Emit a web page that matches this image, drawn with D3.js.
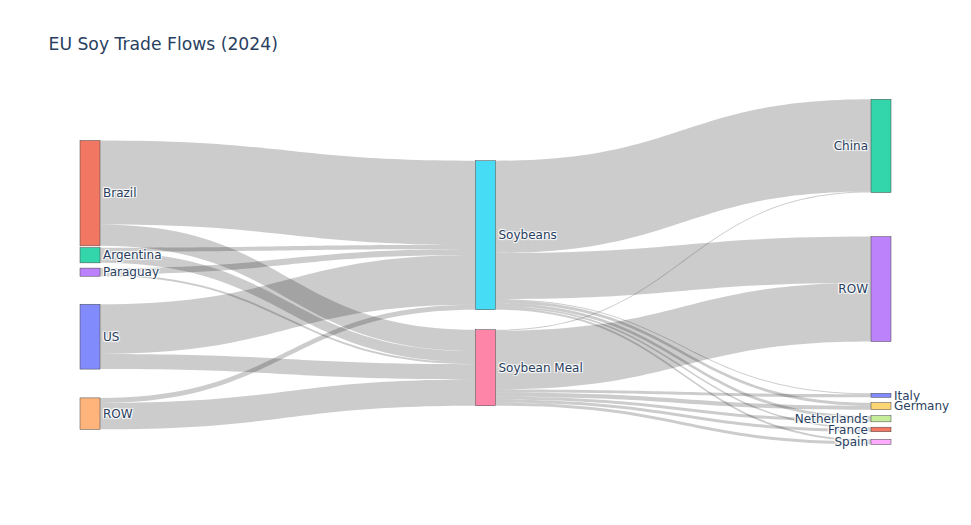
<!DOCTYPE html>
<html>
<head>
<meta charset="utf-8">
<script src="https://cdn.jsdelivr.net/npm/d3@7"></script>
<style>
  html, body { margin: 0; padding: 0; background: #fff; }
  svg { display: block; }
  .node-label {
    font-family: "DejaVu Sans", Verdana, sans-serif;
    font-size: 12px;
    fill: #2a3f5f;
    text-shadow: 1px 1px 1px #fff, -1px -1px 1px #fff, 1px -1px 1px #fff, -1px 1px 1px #fff;
  }
</style>
</head>
<body>
<svg id="chart" width="971" height="525"></svg>
<script>
// ---------------- DATA ----------------
const chartTitle = "EU Soy Trade Flows (2024)";
const nodeLabels = ["Brazil", "Argentina", "Paraguay", "US", "ROW",
                    "Soybeans", "Soybean Meal",
                    "China", "ROW", "Italy", "Germany", "Netherlands", "France", "Spain"];
const nodeColors = ["#EF553B", "#00cc96", "#ab63fa", "#636efa", "#FFA15A",
                    "#19d3f3", "#FF6692",
                    "#00cc96", "#ab63fa", "#636efa", "#FECB52", "#B6E880", "#EF553B", "#FF97FF"];
// node arrangement (like plotly node.y: fraction of the plot height, node centre)
const nodeY = [0.27, 0.45, 0.499, 0.686, 0.909,
               0.392, 0.776,
               0.133, 0.548, 0.856, 0.8875, 0.924, 0.955, 0.991];
// links (million tonnes)
const linkSource = [0, 0, 1, 1, 2, 2, 3, 3, 4, 4,
                    5, 5, 5, 5, 5, 5, 5,
                    6, 6, 6, 6, 6, 6, 6];
const linkTarget = [5, 6, 5, 6, 5, 6, 5, 6, 5, 6,
                    7, 8, 9, 10, 11, 12, 13,
                    7, 8, 9, 10, 11, 12, 13];
const linkValue  = [41.5, 10.5, 2, 5.5, 3, 1, 24.5, 7.5, 2.5, 13,
                    45.5, 22.75, 0.5, 1.5, 1.5, 0.75, 1,
                    0.5, 29, 1.5, 2, 1.5, 1.5, 1.5];
// last-column nodes whose label sits on the right of the bar
const rightLabelNodes = ["Italy", "Germany"];

// ---------------- LAYOUT ----------------
const W = 971, H = 525;
const margin = {l: 80, r: 80, t: 100, b: 80};
const ext = {x0: margin.l, y0: margin.t, x1: W - margin.r, y1: H - margin.b};
const nodeWidth = 20, nodePad = 20;

function sankeyLayout(nodesIn, linksIn) {
  const nodes = nodesIn.map((d, i) => Object.assign({index: i, sourceLinks: [], targetLinks: []}, d));
  const links = linksIn.map((d, i) => Object.assign({index: i}, d));
  links.forEach(l => {
    l.source = nodes[l.source]; l.target = nodes[l.target];
    l.source.sourceLinks.push(l); l.target.targetLinks.push(l);
  });
  nodes.forEach(n => n.value = Math.max(d3.sum(n.sourceLinks, l => l.value), d3.sum(n.targetLinks, l => l.value)));
  let current = new Set(nodes), next = new Set, x = 0;
  while (current.size) {
    for (const n of current) { n.depth = x; for (const l of n.sourceLinks) next.add(l.target); }
    x++; current = next; next = new Set;
  }
  const nCols = d3.max(nodes, d => d.depth) + 1;
  const xs = d3.scaleLinear().domain([0, nCols - 1]).range([ext.x0, ext.x1 - nodeWidth]);
  const ys = d3.scaleLinear().domain([0, 1]).range([ext.y0, ext.y1]);
  const columns = d3.range(nCols).map(() => []);
  nodes.forEach(n => {
    const i = n.sourceLinks.length ? n.depth : nCols - 1; // justify
    n.layer = i; n.x0 = xs(i); n.x1 = n.x0 + nodeWidth;
    columns[i].push(n);
  });
  const py = Math.min(nodePad, (ext.y1 - ext.y0) / (d3.max(columns, c => c.length) - 1));
  const ky = d3.min(columns, c => (ext.y1 - ext.y0 - (c.length - 1) * py) / d3.sum(c, d => d.value));
  nodes.forEach(n => {
    const h = n.value * ky;
    const c = ys(n.fy);
    n.y0 = c - h / 2; n.y1 = c + h / 2;
  });
  links.forEach(l => l.width = l.value * ky);
  const ascB = (a, b) => a.y0 - b.y0;
  nodes.forEach(n => {
    n.sourceLinks.sort((a, b) => ascB(a.target, b.target) || a.index - b.index);
    n.targetLinks.sort((a, b) => ascB(a.source, b.source) || a.index - b.index);
    let a = n.y0, b = n.y0;
    n.sourceLinks.forEach(l => { l.y0 = a + l.width / 2; a += l.width; });
    n.targetLinks.forEach(l => { l.y1 = b + l.width / 2; b += l.width; });
  });
  return {nodes, links, nCols};
}

const graph = sankeyLayout(
  nodeLabels.map((label, i) => ({label, color: nodeColors[i], fy: nodeY[i]})),
  linkValue.map((v, i) => ({source: linkSource[i], target: linkTarget[i], value: v}))
);

// ---------------- DRAW ----------------
const svg = d3.select("#chart");

svg.append("text")
  .attr("x", W * 0.05)
  .attr("y", 50)
  .attr("font-family", "DejaVu Sans, Verdana, sans-serif")
  .attr("font-size", 17.2)
  .attr("fill", "#2a3f5f")
  .text(chartTitle);

function linkPath(l) {
  const x0 = l.source.x1, x1 = l.target.x0;
  const xi = d3.interpolateNumber(x0, x1);
  const x2 = xi(0.5), x3 = xi(0.5);
  const y0a = l.y0 - l.width / 2, y0b = l.y0 + l.width / 2;
  const y1a = l.y1 - l.width / 2, y1b = l.y1 + l.width / 2;
  return `M${x0},${y0a}C${x2},${y0a} ${x3},${y1a} ${x1},${y1a}` +
         `L${x1},${y1b}C${x3},${y1b} ${x2},${y0b} ${x0},${y0b}Z`;
}

svg.append("g")
  .selectAll("path")
  .data(graph.links)
  .join("path")
  .attr("d", linkPath)
  .attr("fill", "rgba(0,0,0,0.2)")
  .attr("stroke", "none");

const nodeG = svg.append("g")
  .selectAll("g")
  .data(graph.nodes)
  .join("g");

nodeG.append("rect")
  .attr("x", d => d.x0)
  .attr("y", d => d.y0)
  .attr("width", d => d.x1 - d.x0)
  .attr("height", d => Math.max(0.5, d.y1 - d.y0))
  .attr("fill", d => d.color)
  .attr("fill-opacity", 0.8)
  .attr("stroke", "#444")
  .attr("stroke-width", 0.5);

const labelLeft = d => d.layer === graph.nCols - 1 && !rightLabelNodes.includes(d.label);
nodeG.append("text")
  .attr("class", "node-label")
  .attr("x", d => labelLeft(d) ? d.x0 - 3 : d.x1 + 3)
  .attr("y", d => (d.y0 + d.y1) / 2)
  .attr("dy", "0.35em")
  .attr("text-anchor", d => labelLeft(d) ? "end" : "start")
  .text(d => d.label);
</script>
</body>
</html>
